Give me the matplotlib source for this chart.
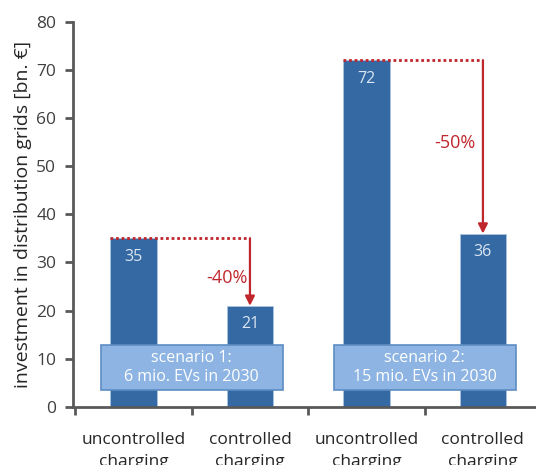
import matplotlib.pyplot as plt
from matplotlib.patches import Rectangle
import numpy as np

plt.rcParams['font.family'] = ['Open Sans', 'DejaVu Sans']

categories = ['uncontrolled\ncharging', 'controlled\ncharging',
              'uncontrolled\ncharging', 'controlled\ncharging']
investment = [35, 21, 72, 36]
reductions = ['-40%', '-50%']
scenarios = ['scenario 1:\n6 mio. EVs in 2030', 'scenario 2:\n15 mio. EVs in 2030']
yticks = [0, 10, 20, 30, 40, 50, 60, 70, 80]

bar_color = '#3469a4'
box_color = '#8db4e2'
red = '#c0272d'
axis_color = '#595959'

fig = plt.figure(figsize=(5.36, 4.65), dpi=100)
ax = fig.add_axes([0.136, 0.125, 0.878, 0.828])

x = np.arange(len(investment))
ax.bar(x, investment, width=0.4, color=bar_color, edgecolor='#a9c3e0',
       linewidth=0.6, zorder=2)
for xi, v in zip(x, investment):
    ax.text(xi, v - 3.8, str(v), ha='center', va='center', color='#dce6f2',
            fontsize=11.5, zorder=3)

# reduction arrows from uncontrolled to controlled charging
label_shift = [-1.2, 0.9]
label_gap = [0.02, 0.06]
for i, label in enumerate(reductions):
    a, b = 2 * i, 2 * i + 1
    top, low = investment[a], investment[b]
    ax.plot([a - 0.2, b], [top, top], color=red, linestyle=(0, (1, 1)),
            linewidth=2, zorder=3)
    ax.annotate('', xy=(b, low), xytext=(b, top),
                arrowprops=dict(arrowstyle='-|>', color=red, lw=1.6,
                                mutation_scale=14, shrinkA=0, shrinkB=0),
                zorder=3)
    ax.text(b - label_gap[i], (top + low) / 2 + label_shift[i], label,
            ha='right', va='center', color=red, fontsize=13)

# scenario boxes
for i, label in enumerate(scenarios):
    left = 2 * i - 0.28
    ax.add_patch(Rectangle((left, 3.5), 1.56, 9.4, facecolor=box_color,
                           edgecolor='#5d8dc2', linewidth=1.2, zorder=4))
    ax.text(left + 0.78, 8.2, label, ha='center', va='center', color='white',
            fontsize=11.5, linespacing=1.3, zorder=5)

ax.set_xlim(-0.52, 3.52)
ax.set_ylim(0, 80)
ax.set_yticks(yticks)
ax.set_xticks(x)
ax.set_xticklabels(categories, fontsize=12.5, color='#262626', linespacing=1.55)
ax.set_xticks(np.arange(-0.5, 4, 1), minor=True)
ax.tick_params(axis='x', which='major', length=0, pad=18)
ax.tick_params(axis='x', which='minor', length=6, width=2, color=axis_color,
               direction='out')
ax.tick_params(axis='y', length=6, width=2, color=axis_color, labelsize=12.5,
               labelcolor='#404040', pad=6)

for side in ['top', 'right']:
    ax.spines[side].set_visible(False)
for side in ['left', 'bottom']:
    ax.spines[side].set_color(axis_color)
    ax.spines[side].set_linewidth(2)

ax.set_ylabel('investment in distribution grids [bn. €]', fontsize=14,
              color='#262626', labelpad=3)

fig.savefig('out.png', dpi=100)
